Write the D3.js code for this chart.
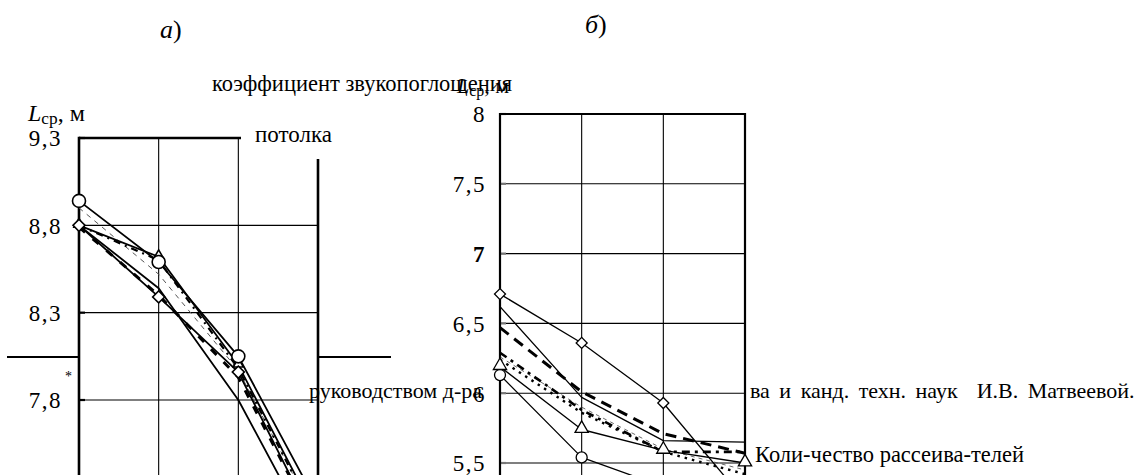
<!DOCTYPE html>
<html><head><meta charset="utf-8">
<script src="https://cdn.jsdelivr.net/npm/d3@7"></script>
<style>
body{margin:0;background:#fff;overflow:hidden;}
svg{display:block;}
text{font-family:"Liberation Serif","Times New Roman",serif;fill:#000;}
</style>
</head><body><svg id="c" width="1137" height="475"></svg>
<script>
// ---------- data ----------
const categories = [0, 1, 2, 3];
const ticksA = [9.3, 8.8, 8.3, 7.8];
const ticksB = [8, 7.5, 7, 6.5, 6, 5.5];

// chart а)
const aCircle   = [8.94, 8.59, 8.05, 7.20];
const aTriangle = [8.80, 8.62, 8.00, 7.12];
const aDiamond  = [8.80, 8.39, 7.96, 7.05];
const aSolid    = [8.80, 8.44, 7.80, 6.95];
const aBoldDash = [8.79, 8.40, 7.93, 7.05];
const aDashDot  = [8.80, 8.60, 7.98, 7.10];
const aThinDash = [8.90, 8.52, 7.97, 7.10];

// chart б)
const bDiamond  = [6.71, 6.36, 5.93, 5.23];
const bSolid    = [6.62, 5.97, 5.66, 5.65];
const bBoldDash = [6.47, 6.01, 5.71, 5.57];
const bDashDot  = [6.29, 5.88, 5.58, 5.58];
const bDotted   = [6.24, 5.86, 5.58, 5.42];
const bThinDash = [6.26, 5.90, 5.60, 5.45];
const bTriangle = [6.19, 5.74, 5.59, 5.50];
const bCircle   = [6.13, 5.54, 5.33, 5.20];

// ---------- drawing ----------
const svg = d3.select('#c');
const SERIF = '"Liberation Serif","Times New Roman",serif';
const fmt = d => String(d).replace('.', ',');

function label(g, x, y, size) {
  const t = g.append('text').attr('x', x).attr('y', y).style('font-size', size + 'px');
  t.append('tspan').style('font-style', 'italic').text('L');
  t.append('tspan').attr('dy', 3).style('font-size', (size * 0.72) + 'px').text('ср');
  t.append('tspan').attr('dy', -3).text(', м');
}

// background horizontal rule (behind chart а)
svg.append('line').attr('x1', 7).attr('x2', 391).attr('y1', 357).attr('y2', 357)
  .attr('stroke', '#000').attr('stroke-width', 2.2);

// titles
const ta = svg.append('text').attr('x', 160).attr('y', 38).style('font-size', '26px');
ta.append('tspan').style('font-style', 'italic').text('а');
ta.append('tspan').text(')');
const tb = svg.append('text').attr('x', 585).attr('y', 33).style('font-size', '26px');
tb.append('tspan').style('font-style', 'italic').text('б');
tb.append('tspan').text(')');

svg.append('text').attr('x', 212).attr('y', 91).style('font-size', '22.5px')
  .text('коэффициент звукопоглощения');
svg.append('text').attr('x', 65).attr('y', 381).style('font-size', '14px').text('*');

function chart(opts) {
  const g = svg.append('g');
  const x = d3.scaleLinear().domain([0, 3]).range([opts.x0, opts.x1]);
  const y = d3.scaleLinear().domain(opts.domain).range([opts.yb, opts.yt]);
  const bottom = 490;
  // tick labels
  const ax = g.append('g').attr('transform', `translate(${opts.x0},0)`)
    .call(d3.axisLeft(y).tickValues(opts.ticks).tickFormat(fmt).tickSize(0).tickPadding(opts.pad))
    .attr('font-family', SERIF).attr('font-size', 23);
  ax.select('.domain').remove();
  ax.selectAll('text').style('font-family', SERIF).style('font-size', '23px')
    .style('letter-spacing', '1.5px')
    .attr('dy', '0.34em')
    .style('font-weight', d => (opts.bold && opts.bold.includes(d)) ? 'bold' : 'normal');
  if (opts.before) opts.before();
  const p = svg.append('g');
  // white plot area
  p.append('rect').attr('x', opts.x0).attr('y', opts.yt).attr('width', opts.x1 - opts.x0)
    .attr('height', bottom - opts.yt).attr('fill', '#fff');
  // grid
  p.selectAll('.hg').data(opts.ticks.filter(t => y(t) > opts.yt + 1)).join('line')
    .attr('x1', opts.x0).attr('x2', opts.x1).attr('y1', d => y(d)).attr('y2', d => y(d))
    .attr('stroke', '#000').attr('stroke-width', 1.1);
  p.selectAll('.vg').data(categories.slice(1, 3)).join('line')
    .attr('x1', d => x(d)).attr('x2', d => x(d)).attr('y1', opts.yt).attr('y2', bottom)
    .attr('stroke', '#000').attr('stroke-width', 1.1);
  // small ticks
  p.selectAll('.tk').data(opts.ticks).join('line')
    .attr('x1', opts.x0).attr('x2', opts.x0 + 6).attr('y1', d => y(d)).attr('y2', d => y(d))
    .attr('stroke', opts.tickColor || '#000').attr('stroke-width', 2.2);
  // frame
  const bw = opts.frame;
  p.append('line').attr('x1', opts.x0).attr('x2', opts.x0).attr('y1', opts.yt - bw / 2).attr('y2', bottom)
    .attr('stroke', '#000').attr('stroke-width', bw);
  p.append('line').attr('x1', opts.x0).attr('x2', opts.x1).attr('y1', opts.yt).attr('y2', opts.yt)
    .attr('stroke', '#000').attr('stroke-width', bw);
  p.append('line').attr('x1', opts.x1).attr('x2', opts.x1).attr('y1', opts.yt - bw / 2).attr('y2', bottom)
    .attr('stroke', '#000').attr('stroke-width', bw);
  // series
  const line = d3.line().x((d, i) => x(categories[i])).y(d => y(d));
  opts.series.forEach(s => {
    p.append('path').attr('d', line(s.values)).attr('fill', 'none')
      .attr('stroke', s.color || '#000').attr('stroke-width', s.w)
      .attr('stroke-dasharray', s.dash || null).attr('stroke-linejoin', 'round');
  });
  opts.series.filter(s => s.marker).forEach(s => {
    const pts = s.values.map((v, i) => [x(categories[i]), y(v)]);
    const m = p.selectAll(null).data(pts).join(s.marker === 'circle' ? 'circle' : 'path')
      .attr('fill', '#fff').attr('stroke', '#000').attr('stroke-width', s.mw || 1.6);
    if (s.marker === 'circle') m.attr('cx', d => d[0]).attr('cy', d => d[1]).attr('r', s.ms);
    else if (s.marker === 'diamond')
      m.attr('d', d3.symbol(d3.symbolSquare, s.ms * s.ms * 2)).attr('transform', d => `translate(${d[0]},${d[1]}) rotate(45)`);
    else
      m.attr('d', d3.symbol(d3.symbolTriangle, s.ms * s.ms * 1.8)).attr('transform', d => `translate(${d[0]},${d[1] - 1})`);
  });
  return {g, p, x, y};
}

// chart а)
const A = chart({
  x0: 79, x1: 318, yt: 138, yb: 400, domain: [7.8, 9.3], ticks: ticksA, pad: 17, frame: 2.6,
  series: [
    {values: aThinDash, w: 1, dash: '5,5', color: '#555'},
    {values: aBoldDash, w: 3, dash: '8,10'},
    {values: aDashDot, w: 2.2, dash: '7,5,2,5'},
    {values: aSolid, w: 1.8},
    {values: aTriangle, w: 1.8, marker: 'triangle', ms: 5},
    {values: aDiamond, w: 1.8, marker: 'diamond', ms: 6},
    {values: aCircle, w: 1.8, marker: 'circle', ms: 6.5}
  ]
});
// "потолка" label with white box over the frame
svg.append('rect').attr('x', 241).attr('y', 118).attr('width', 100).attr('height', 41).attr('fill', '#fff');
svg.append('text').attr('x', 255).attr('y', 142).style('font-size', '23px').text('потолка');
label(svg, 28, 121, 24);

// chart б)
const B = chart({
  x0: 500, x1: 745, yt: 114, yb: 463, domain: [5.5, 8], ticks: ticksB, pad: 14, frame: 2.2, bold: [7],
  tickColor: '#777',
  before: () => {
    svg.append('text').attr('x', 309).attr('y', 398).style('font-size', '22px').text('руководством д-ра');
  },
  series: [
    {values: bThinDash, w: 0.8, dash: '4,4', color: '#444'},
    {values: bDotted, w: 2.4, dash: '2.5,5'},
    {values: bDashDot, w: 2.6, dash: '8,5,3,5'},
    {values: bBoldDash, w: 3, dash: '11,7'},
    {values: bSolid, w: 1.3},
    {values: bDiamond, w: 1.3, marker: 'diamond', ms: 5.5, mw: 1.3},
    {values: bTriangle, w: 1.3, marker: 'triangle', ms: 6.5, mw: 1.3},
    {values: bCircle, w: 1.3, marker: 'circle', ms: 5.5, mw: 1.3}
  ]
});
label(svg, 457, 93, 22);
svg.append('text').attr('x', 750).attr('y', 398).style('font-size', '22px')
  .style('word-spacing', '4px').style('white-space', 'pre')
  .text('ва и канд. техн. наук  И.В. Матвеевой.');
svg.append('text').attr('x', 755).attr('y', 462).style('font-size', '22.5px').text('Коли-чество рассеива-телей');
</script>
</body></html>
